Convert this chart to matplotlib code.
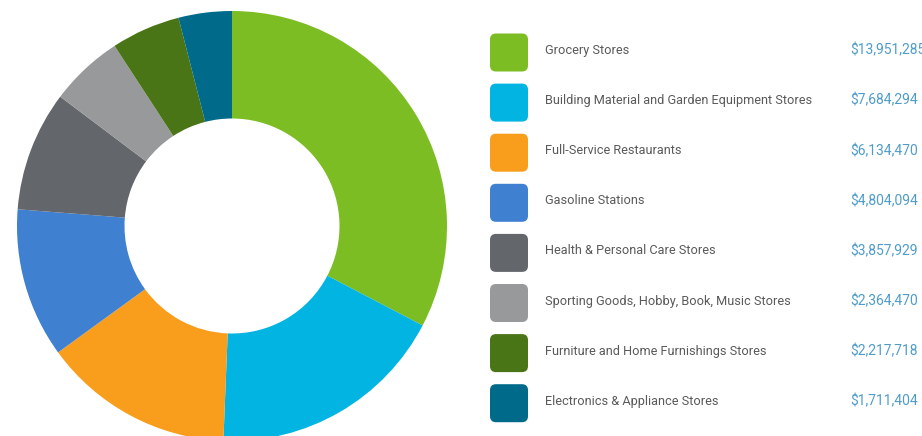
import matplotlib
matplotlib.use('Agg')
import matplotlib.pyplot as plt
from matplotlib.patches import FancyBboxPatch

# Data
CATEGORIES = [
    'Grocery Stores',
    'Building Material and Garden Equipment Stores',
    'Full-Service Restaurants',
    'Gasoline Stations',
    'Health & Personal Care Stores',
    'Sporting Goods, Hobby, Book, Music Stores',
    'Furniture and Home Furnishings Stores',
    'Electronics & Appliance Stores',
]
SALES = [13951285, 7684294, 6134470, 4804094, 3857929, 2364470, 2217718, 1711404]
COLORS = ['#7bbd22', '#02b4e2', '#f99d1c', '#4080d0',
          '#63666a', '#98999b', '#4a7516', '#006a8a']

W, H = 922, 436
LABEL_COLOR = '#5a5a5a'
VALUE_COLOR = '#4f9ccb'
FONT = ['Roboto', 'DejaVu Sans']

fig = plt.figure(figsize=(W / 100, H / 100), dpi=100)
fig.patch.set_facecolor('white')

# donut, centre (232, 226) px, radius 215 px
cx, cy, r = 232, 226, 215
ax = fig.add_axes([(cx - r) / W, (H - cy - r) / H, 2 * r / W, 2 * r / H])
ax.pie(SALES, colors=COLORS, startangle=90, counterclock=False,
       wedgeprops=dict(width=0.5, linewidth=0, edgecolor='none'),
       radius=1.0)
ax.set_xlim(-1, 1)
ax.set_ylim(-1, 1)
ax.set_aspect('equal')
ax.axis('off')
for p in ax.patches:
    p.set_clip_on(False)

# legend drawn in pixel coordinates
lax = fig.add_axes([0, 0, 1, 1])
lax.set_xlim(0, W)
lax.set_ylim(H, 0)
lax.axis('off')
lax.patch.set_alpha(0)

y0, step, size = 52.5, 50.1, 38
for i, (name, val, col) in enumerate(zip(CATEGORIES, SALES, COLORS)):
    y = y0 + i * step
    box = FancyBboxPatch((490, y - size / 2), size, size,
                         boxstyle='round,pad=0,rounding_size=6',
                         facecolor=col, edgecolor='none')
    lax.add_patch(box)
    lax.text(545, y - 2, name, fontsize=9.2, color=LABEL_COLOR,
             va='center', ha='left', family=FONT)
    lax.text(850, y - 2, '${:,}'.format(val), fontsize=10, color=VALUE_COLOR,
             va='center', ha='left', family=FONT)

fig.savefig('out.png', dpi=100, facecolor='white')
